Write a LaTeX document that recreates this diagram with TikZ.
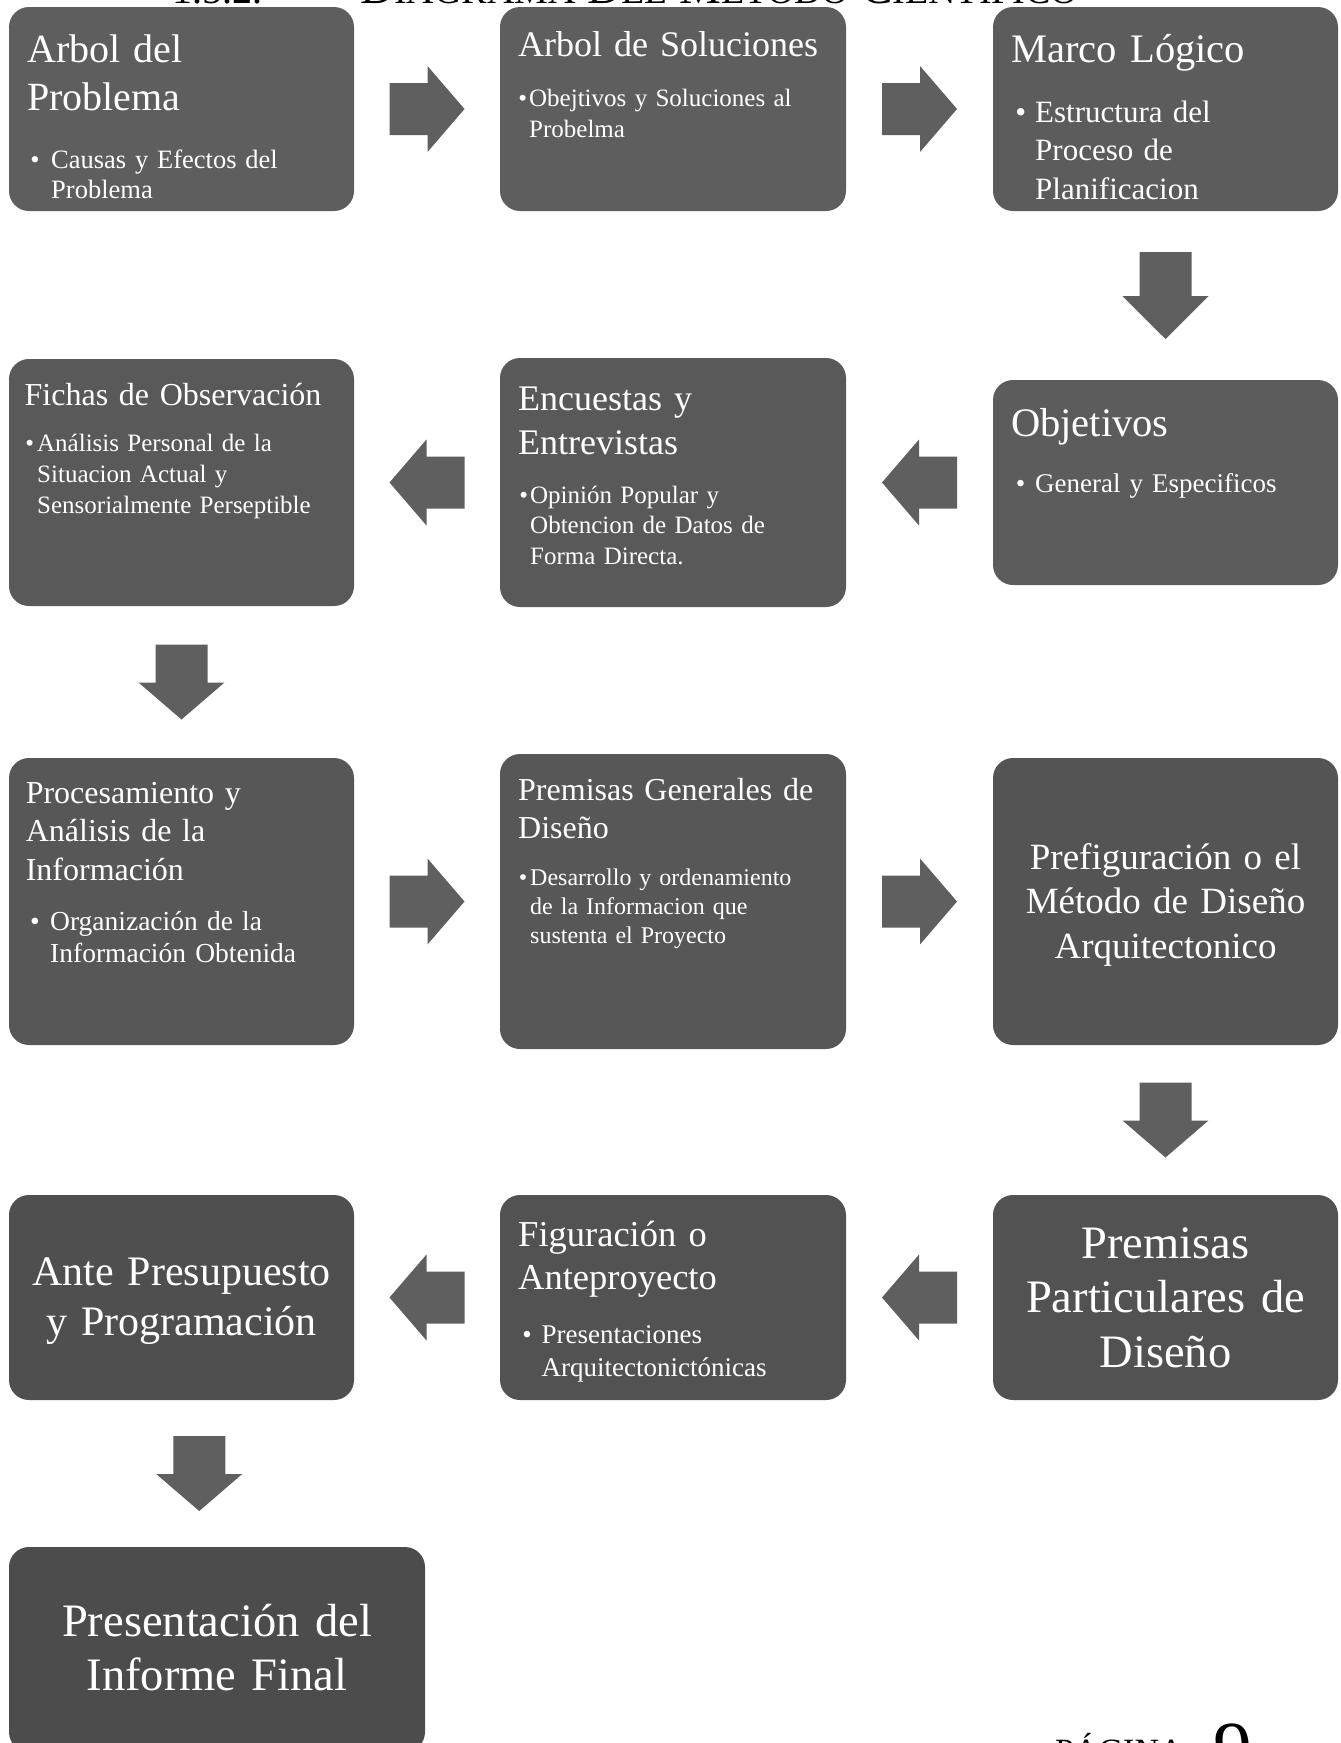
\documentclass[tikz,border=0pt]{standalone}
\usepackage{fontspec}
\setmainfont{Liberation Serif}
\usetikzlibrary{calc}

\newcommand{\fnt}[2]{\fontsize{#1}{#2}\selectfont}
\newcommand{\bul}[1]{\llap{\textbullet\hspace{#1}}}
\definecolor{arrgray}{HTML}{5F5F5F}

\begin{document}
\begin{tikzpicture}[x=1pt, y=-1pt,
  box/.style={rounded corners=20pt, inner sep=0pt, outer sep=0pt},
  sz/.style 2 args={minimum width=#1pt, minimum height=#2pt},
  txt/.style={text=white, inner sep=0pt, align=left, anchor=base west, text width=320pt},
  mid/.style={text=white, inner sep=0pt, align=center, anchor=base, text width=340pt},
  blockarr/.pic={\fill[arrgray] (-37.5,-26) -- (0.5,-26) -- (0.5,-43) -- (37.5,0) -- (0.5,43) -- (0.5,26) -- (-37.5,26) -- cycle;}]
\useasboundingbox (0,0) rectangle (1341,1743);

% cajas
\node[box, sz={345}{204}, fill=black!63] (arbol) at (181.5,109) {};
\node[box, sz={346}{204}, fill=black!63] (soluc) at (673,109) {};
\node[box, sz={345}{204}, fill=black!64] (marco) at (1165.5,109) {};
\node[box, sz={345}{205}, fill=black!64] (objet) at (1165.5,482.5) {};
\node[box, sz={346}{249}, fill=black!65] (encue) at (673,482.5) {};
\node[box, sz={345}{247}, fill=black!65] (fichas) at (181.5,482.5) {};
\node[box, sz={345}{287}, fill=black!66] (proces) at (181.5,901.5) {};
\node[box, sz={346}{295}, fill=black!66] (premg) at (673,901.5) {};
\node[box, sz={345}{287}, fill=black!67] (prefig) at (1165.5,901.5) {};
\node[box, sz={345}{205}, fill=black!68] (premp) at (1165.5,1297.5) {};
\node[box, sz={346}{205}, fill=black!68] (figur) at (673,1297.5) {};
\node[box, sz={345}{205}, fill=black!69] (ante) at (181.5,1297.5) {};
\node[box, sz={416}{205}, fill=black!70] (present) at (217,1649.5) {};

% textos
\node[txt, font=\fnt{40}{48}] (arbolT) at ([shift={(18,55)}]arbol.north west) {Arbol del\\Problema};
\node[txt, font=\fnt{26.5}{30}] (arbolB) at ([shift={(42,161)}]arbol.north west) {\bul{11.5pt}Causas y Efectos del\\Problema};
\node[txt, font=\fnt{36}{44}] (solucT) at ([shift={(18,49)}]soluc.north west) {Arbol de Soluciones};
\node[txt, font=\fnt{25}{31}] (solucB) at ([shift={(29,99)}]soluc.north west) {\bul{2pt}Obejtivos y Soluciones al\\Probelma};
\node[txt, font=\fnt{40.5}{48}] (marcoT) at ([shift={(18,55)}]marco.north west) {Marco Lógico};
\node[txt, font=\fnt{31}{38.5}] (marcoB) at ([shift={(42,115)}]marco.north west) {\bul{9pt}Estructura del\\Proceso de\\Planificacion};
\node[txt, font=\fnt{40.5}{48}] (objetT) at ([shift={(18,56)}]objet.north west) {Objetivos};
\node[txt, font=\fnt{27}{32}] (objetB) at ([shift={(42,112)}]objet.north west) {\bul{10pt}General y Especificos};
\node[txt, font=\fnt{36}{44.5}] (encueT) at ([shift={(18,52)}]encue.north west) {Encuestas y\\Entrevistas};
\node[txt, font=\fnt{25}{30.5}] (encueB) at ([shift={(30,145)}]encue.north west) {\bul{2pt}Opinión Popular y\\Obtencion de Datos de\\Forma Directa.};
\node[txt, font=\fnt{32}{40}] (fichasT) at ([shift={(15.5,46)}]fichas.north west) {Fichas de Observación};
\node[txt, font=\fnt{25}{31}] (fichasB) at ([shift={(28,92)}]fichas.north west) {\bul{3pt}Análisis Personal de la\\Situacion Actual y\\Sensorialmente Perseptible};
\node[txt, font=\fnt{32}{38.5}] (procesT) at ([shift={(16.6,45)}]proces.north west) {Procesamiento y\\Análisis de la\\Información};
\node[txt, font=\fnt{27.5}{32}] (procesB) at ([shift={(41,172)}]proces.north west) {\bul{10.5pt}Organización de la\\Información Obtenida};
\node[txt, font=\fnt{32}{38}] (premgT) at ([shift={(18,46)}]premg.north west) {Premisas Generales de\\Diseño};
\node[txt, font=\fnt{24}{29}] (premgB) at ([shift={(30,131)}]premg.north west) {\bul{3pt}Desarrollo y ordenamiento\\de la Informacion que\\sustenta el Proyecto};
\node[mid, font=\fnt{37}{44.5}] (prefigT) at ([shift={(0,111)}]prefig.north) {Prefiguración o el\\Método de Diseño\\Arquitectonico};
\node[mid, font=\fnt{46.5}{54.5}] (prempT) at ([shift={(0,63)}]premp.north) {Premisas\\Particulares de\\Diseño};
\node[txt, font=\fnt{36.5}{43.5}] (figurT) at ([shift={(18,51)}]figur.north west) {Figuración o\\Anteproyecto};
\node[txt, font=\fnt{27}{33}] (figurB) at ([shift={(41.5,148)}]figur.north west) {\bul{10pt}Presentaciones\\Arquitectonictónicas};
\node[mid, font=\fnt{42}{50}] (anteT) at ([shift={(0,90)}]ante.north) {Ante Presupuesto\\y Programación};
\node[mid, font=\fnt{46.5}{54.5}, text width=410pt] (presentT) at ([shift={(0,89)}]present.north) {Presentación del\\Informe Final};

% flechas
\pic at ($(arbol.east)!.5!(soluc.west)$) {blockarr};
\pic at ($(soluc.east)!.5!(marco.west)$) {blockarr};
\pic[rotate=-90, xscale=1.16] at ($(marco.south)!.5!(objet.north)$) {blockarr};
\pic[rotate=180] at ($(objet.west)!.5!(encue.east)$) {blockarr};
\pic[rotate=180] at ($(encue.west)!.5!(fichas.east)$) {blockarr};
\pic[rotate=-90] at ($(fichas.south)!.5!(proces.north)$) {blockarr};
\pic at ($(proces.east)!.5!(premg.west)$) {blockarr};
\pic at ($(premg.east)!.5!(prefig.west)$) {blockarr};
\pic[rotate=-90] at ($(prefig.south)!.5!(premp.north)$) {blockarr};
\pic[rotate=180] at ($(premp.west)!.5!(figur.east)$) {blockarr};
\pic[rotate=180] at ($(figur.west)!.5!(ante.east)$) {blockarr};
\pic[rotate=-90] at ($(ante.south)!.5!(present.north)$) {blockarr};

% encabezado y pie (cortados por el borde)
\node[anchor=base west, inner sep=0pt, font=\fnt{40}{48}] (numero) at (172,3) {1.5.2.};
\node[anchor=base west, inner sep=0pt, font=\fnt{47}{56}] (titulo) at (360,3) {D{\fnt{38}{46}IAGRAMA} D{\fnt{38}{46}EL} M{\fnt{38}{46}ÉTODO} C{\fnt{38}{46}IENTÍFICO}};
\node[anchor=base west, inner sep=0pt, font=\fnt{34}{40}] (pagina) at (1055,1762) {PÁGINA};
\node[anchor=base west, inner sep=0pt, font=\fnt{78}{90}] (numpag) at (1213,1775) {9};
\end{tikzpicture}
\end{document}
